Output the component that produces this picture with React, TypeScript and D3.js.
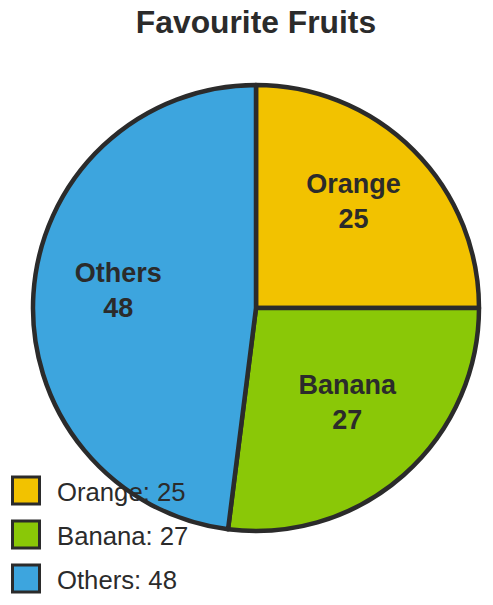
import React from "react";
import * as d3 from "d3";

const categories = ["Orange", "Banana", "Others"];
const values = [25, 27, 48];
const colors = ["#F2C200", "#8AC807", "#3DA5DE"];
const title = "Favourite Fruits";

const W = 493;
const H = 605;
const FONT = "'Liberation Sans', Arial, sans-serif";
const INK = "#2b2b2b";

export default function App() {
  const cx = 256;
  const cy = 308;
  const r = 223;
  const labelR = 138;

  const pie = d3
    .pie<number>()
    .sort(null)
    .startAngle(0)
    .endAngle(2 * Math.PI)
    .value((d) => d);
  const arcs = pie(values);
  const arc = d3.arc<d3.PieArcDatum<number>>().innerRadius(0).outerRadius(r);
  const labelArc = d3
    .arc<d3.PieArcDatum<number>>()
    .innerRadius(labelR)
    .outerRadius(labelR);

  const legendY = d3
    .scalePoint<string>()
    .domain(categories)
    .range([477, 565]);

  return (
    <svg
      width={W}
      height={H}
      style={{ position: "absolute", left: 0, top: 0, background: "#fff" }}
      fontFamily={FONT}
    >
      <text
        x={cx}
        y={33}
        textAnchor="middle"
        fontSize={31.8}
        fontWeight="bold"
        fill={INK}
      >
        {title}
      </text>
      <g transform={`translate(${cx},${cy})`}>
        {arcs.map((a, i) => (
          <path
            key={categories[i]}
            d={arc(a) || ""}
            fill={colors[i]}
            stroke={INK}
            strokeWidth={4.5}
            strokeLinejoin="round"
          />
        ))}
        {arcs.map((a, i) => {
          const [x, y] = labelArc.centroid(a);
          return (
            <text
              key={"l" + categories[i]}
              x={x}
              textAnchor="middle"
              fontSize={27}
              fontWeight="bold"
              fill={INK}
            >
              <tspan x={x} y={y - 17.5}>
                {categories[i]}
              </tspan>
              <tspan x={x} y={y + 17.5}>
                {values[i]}
              </tspan>
            </text>
          );
        })}
      </g>
      {categories.map((c, i) => {
        const y = legendY(c) as number;
        return (
          <g key={"lg" + c}>
            <rect
              x={12.5}
              y={y}
              width={27}
              height={27}
              fill={colors[i]}
              stroke={INK}
              strokeWidth={3}
            />
            <text x={57} y={y + 24} fontSize={25.7} fill={INK}>
              {`${c}: ${values[i]}`}
            </text>
          </g>
        );
      })}
    </svg>
  );
}
